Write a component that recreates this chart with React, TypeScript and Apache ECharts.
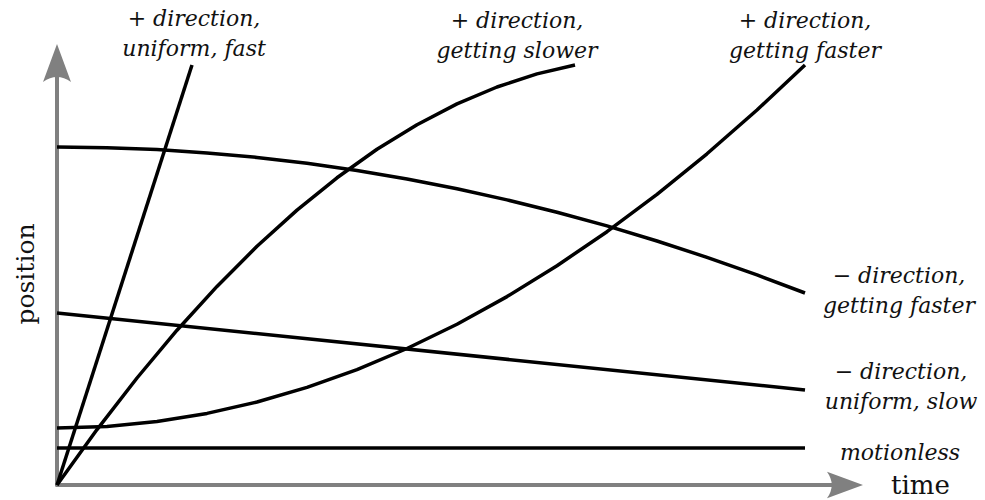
import React, { useEffect, useRef } from "react";
import * as echarts from "echarts";

// time offsets and positions (arbitrary units)
const uniformFastT = [0, 135];
const uniformFastPos = [0, 420];

const slowerT = [0, 40, 80, 120, 160, 200, 240, 280, 320, 360, 400, 440, 480, 518];
const slowerPos = [0, 55.4, 107, 154.8, 198.6, 238.7, 274.9, 307.2, 335.7, 360.3, 381.1, 398, 411.1, 420];

const fasterT = [0, 50, 100, 150, 200, 250, 300, 350, 400, 450, 500, 550, 600, 650, 700, 748];
const fasterPos = [57, 58.6, 63.5, 71.6, 83, 97.6, 115.4, 136.5, 160.8, 188.4, 219.3, 253.3, 290.6, 331.2, 375, 420];

const negFasterT = [0, 50, 100, 150, 200, 250, 300, 350, 400, 450, 500, 550, 600, 650, 700, 748];
const negFasterPos = [338, 337.3, 335.4, 332.1, 327.6, 321.7, 314.5, 306, 296.2, 285.1, 272.7, 259.1, 244, 227.7, 210.1, 192];

const negUniformT = [0, 748];
const negUniformPos = [172, 95];

const motionlessT = [0, 748];
const motionlessPos = [37, 37];

const labels = [
  "+ direction,\nuniform, fast",
  "+ direction,\ngetting slower",
  "+ direction,\ngetting faster",
  "\u2212 direction,\ngetting faster",
  "\u2212 direction,\nuniform, slow",
  "motionless",
];

const labelOffsets: [number, number][] = [
  [2, -32],
  [-58, -30],
  [0, -30],
  [94, -3],
  [96, -4],
  [95, 4],
];

const xMax = 788;
const yMax = 422;

const arrowPath = "path://M14,0 L28,38 Q14,28 0,38 Z";

function buildSeries(t: number[], p: number[], idx: number) {
  const data = t.map((x, i) => {
    if (i === t.length - 1) {
      return {
        value: [x, p[i]],
        label: {
          show: true,
          position: "inside",
          offset: labelOffsets[idx],
          formatter: labels[idx],
          fontFamily: "DejaVu Serif",
          fontStyle: "italic",
          fontSize: 22,
          lineHeight: 30,
          color: "#111",
          align: "center",
          verticalAlign: "middle",
        },
      };
    }
    return { value: [x, p[i]] };
  });
  return {
    type: "line",
    data,
    showSymbol: true,
    symbol: "circle",
    symbolSize: 0,
    silent: true,
    lineStyle: { color: "#000", width: 3.5, cap: "butt" },
    itemStyle: { color: "#000" },
    emphasis: { disabled: true },
  };
}

export default function App() {
  const ref = useRef<HTMLDivElement>(null);
  useEffect(() => {
    if (!ref.current) return;
    const chart = echarts.init(ref.current, undefined, { renderer: "svg" });
    const axisCommon = {
      type: "value",
      min: 0,
      axisTick: { show: false },
      axisLabel: { show: false },
      splitLine: { show: false },
    };
    chart.setOption({
      animation: false,
      backgroundColor: "#fff",
      grid: {
        left: 57,
        right: 140,
        top: 63,
        bottom: 15,
        containLabel: false,
        outerBoundsMode: "none",
      },
      xAxis: {
        ...axisCommon,
        max: xMax,
        name: "time",
        nameLocation: "end",
        nameGap: 46,
        nameTextStyle: {
          fontFamily: "DejaVu Serif",
          fontSize: 26,
          color: "#111",
          verticalAlign: "middle",
          padding: [2, 0, 0, 0],
        },
        axisLine: {
          show: true,
          symbol: ["none", arrowPath],
          symbolSize: [28, 36],
          lineStyle: { color: "#808080", width: 4 },
        },
      },
      yAxis: {
        ...axisCommon,
        max: yMax,
        name: "position",
        nameLocation: "middle",
        nameGap: 19,
        nameTextStyle: {
          fontFamily: "DejaVu Serif",
          fontSize: 25,
          color: "#111",
        },
        axisLine: {
          show: true,
          symbol: ["none", arrowPath],
          symbolSize: [28, 38],
          lineStyle: { color: "#808080", width: 4 },
        },
      },
      series: [
        buildSeries(uniformFastT, uniformFastPos, 0),
        buildSeries(slowerT, slowerPos, 1),
        buildSeries(fasterT, fasterPos, 2),
        buildSeries(negFasterT, negFasterPos, 3),
        buildSeries(negUniformT, negUniformPos, 4),
        buildSeries(motionlessT, motionlessPos, 5),
      ],
    });
    return () => chart.dispose();
  }, []);
  return (
    <div
      ref={ref}
      style={{ position: "fixed", left: 0, top: 0, width: 985, height: 500, background: "#fff" }}
    />
  );
}
